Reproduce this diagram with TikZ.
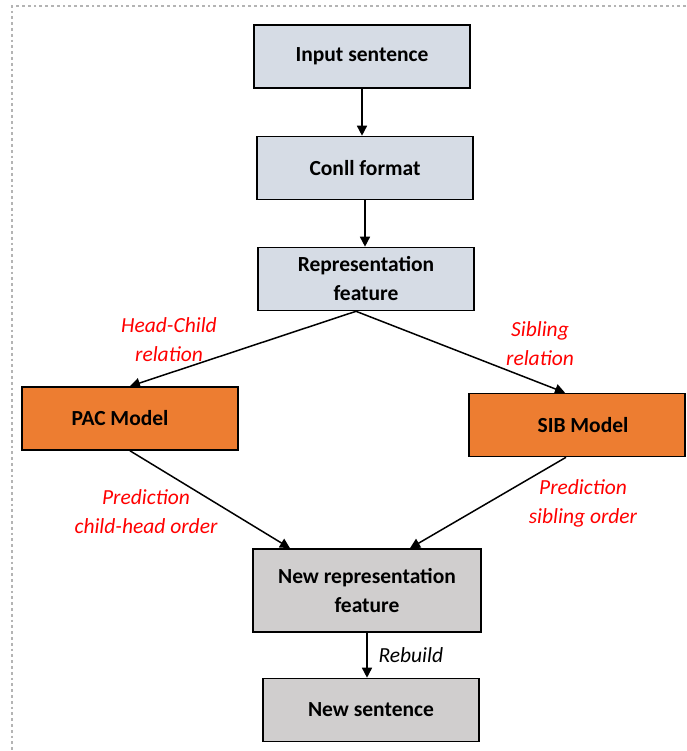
\documentclass[tikz,border=0pt]{standalone}
\usepackage{fontspec}
\setmainfont{Carlito}
\usetikzlibrary{arrows.meta,positioning,calc}
\definecolor{inbox}{HTML}{D6DCE5}
\definecolor{model}{HTML}{ED7D31}
\definecolor{outbox}{HTML}{D0CECE}
\definecolor{frame}{HTML}{B4B4B4}
\definecolor{note}{HTML}{FF0000}

\begin{document}
\begin{tikzpicture}[x=1pt,y=-1pt,
  stepbox/.style={draw=black,line width=1.6pt,minimum width=216pt,minimum height=63pt,
    align=center,inner sep=0pt,font=\fontsize{21.5}{29}\selectfont\bfseries},
  link/.style={line width=1.5pt,-{Triangle[length=10pt,width=10pt]}},
  lbl/.style={align=center,text=note,font=\fontsize{21.5}{29}\selectfont\itshape}]
  \useasboundingbox (0,0) rectangle (686,751);

  % Page frame
  \draw[frame,line width=2.8pt,dash pattern=on 2.8pt off 3pt] (686,6) -- (12,6) -- (12,751);

  % Input side
  \node[stepbox,fill=inbox] (input) at (362,56.5) {Input sentence};
  \node[stepbox,fill=inbox] (conll) at (365,168) {Conll format};
  \node[stepbox,fill=inbox] (repr) at (366,279) {Representation\\feature};
  \draw[link] (input.south) -- (input.south |- conll.north);
  \draw[link] (conll.south) -- (conll.south |- repr.north);

  % Models
  \node[stepbox,fill=model] (pac) at (130,418.5) {PAC Model\hspace*{20pt}};
  \node[stepbox,fill=model] (sib) at (577,425) {\hspace*{12pt}SIB Model};
  \draw[link] ([xshift=-10pt]repr.south) -- (pac.north);
  \draw[link] ([xshift=-10pt]repr.south) -- ([xshift=-12pt]sib.north);
  \node[lbl] (hc) at (169,340) {Head-Child\\relation};
  \node[lbl] (sr) at (540,344) {Sibling\\relation};

  % Output side
  \node[stepbox,fill=outbox,minimum width=228pt,minimum height=83pt] (newrep) at (367,590.5) {New representation\\feature};
  \node[stepbox,fill=outbox] (newsent) at (371,710) {New sentence};
  \draw[link] (pac.south) -- ([xshift=-77pt]newrep.north);
  \draw[link] ([xshift=-11pt]sib.south) -- ([xshift=43pt]newrep.north);
  \node[lbl] (pc) at (146,512) {Prediction\\child-head order};
  \node[lbl] (ps) at (583,503) {Prediction\\sibling order};
  \draw[link] (newrep.south) -- (newrep.south |- newsent.north);
  \node[lbl,text=black,anchor=west] (rb) at (375,655) {Rebuild};
\end{tikzpicture}
\end{document}
